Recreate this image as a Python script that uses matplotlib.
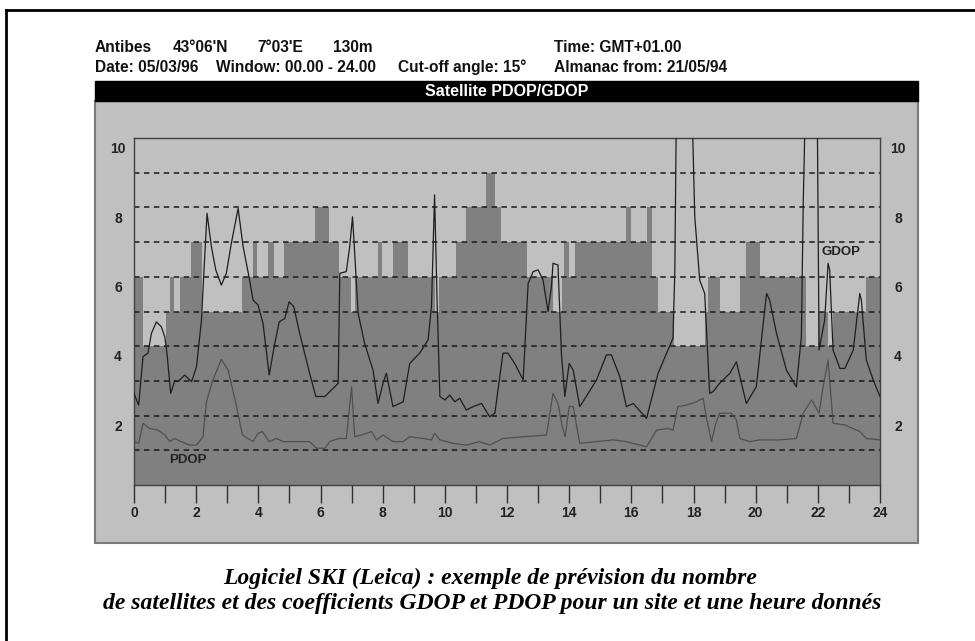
import numpy as np
import matplotlib.pyplot as plt
from matplotlib.patches import Rectangle

# number of visible satellites: interval edges (hours) and count per interval
sat_edges = [0, 0.29, 1.02, 1.15, 1.29, 1.48, 1.83, 2.2, 3.48, 3.82,
             3.95, 4.3, 4.5, 4.82, 5.82, 6.28, 6.61, 6.98, 7.1, 7.85,
             7.99, 8.33, 8.81, 9.68, 9.8, 10.35, 10.69, 11.33, 11.63, 11.81,
             12.65, 13.49, 13.76, 13.84, 14.0, 14.19, 15.84, 16.0, 16.49, 16.66,
             16.86, 17.37, 18.37, 18.47, 18.84, 19.48, 19.69, 20.14, 21.63, 22.0,
             22.33, 22.49, 23.56, 24]
sat_count = [6, 4, 5, 6, 5, 6, 7, 5, 6, 7,
             6, 7, 6, 7, 8, 7, 6, 5, 6, 7,
             6, 7, 6, 5, 6, 7, 8, 9, 8, 7,
             6, 5, 6, 7, 6, 7, 8, 7, 8, 6,
             5, 4, 5, 6, 5, 6, 7, 6, 4, 5,
             4, 5, 6]

# GDOP curve (values above 10 run off the top of the chart)
gdop_t = [0, 0.15, 0.29, 0.45, 0.56, 0.72, 0.88, 0.99, 1.06, 1.18,
          1.31, 1.42, 1.63, 1.85, 2.01, 2.17, 2.27, 2.35, 2.49, 2.63,
          2.81, 2.97, 3.13, 3.35, 3.51, 3.7, 3.83, 3.99, 4.15, 4.35,
          4.51, 4.67, 4.85, 4.99, 5.14, 5.33, 5.65, 5.85, 6.14, 6.46,
          6.57, 6.62, 6.83, 6.94, 7.03, 7.1, 7.21, 7.42, 7.69, 7.85,
          8.01, 8.12, 8.33, 8.66, 8.87, 9.19, 9.46, 9.57, 9.67, 9.75,
          9.84, 10.0, 10.16, 10.32, 10.48, 10.69, 10.91, 11.18, 11.44, 11.61,
          11.87, 12.03, 12.25, 12.52, 12.68, 12.84, 13.0, 13.16, 13.32, 13.43,
          13.48, 13.64, 13.75, 13.86, 14.0, 14.13, 14.34, 14.55, 14.88, 15.2,
          15.36, 15.63, 15.84, 16.06, 16.49, 16.86, 17.18, 17.34, 17.4, 17.45,
          17.95, 18.04, 18.2, 18.36, 18.52, 18.63, 18.84, 19.17, 19.38, 19.7,
          20.02, 20.35, 20.45, 20.67, 20.99, 21.31, 21.47, 21.53, 21.6, 21.98,
          22.04, 22.22, 22.33, 22.38, 22.49, 22.71, 22.87, 23.14, 23.35, 23.4,
          23.56, 23.78, 24.0]
gdop_v = [2.64, 2.3, 3.7, 3.8, 4.37, 4.7, 4.56, 4.27, 3.8, 2.64,
          3.0, 2.98, 3.17, 2.98, 3.4, 4.75, 6.5, 7.83, 6.87, 6.2,
          5.76, 6.1, 6.96, 7.97, 6.87, 6.0, 5.33, 5.19, 4.66, 3.17,
          3.99, 4.7, 4.8, 5.28, 5.14, 4.37, 3.22, 2.55, 2.55, 2.83,
          2.93, 6.1, 6.15, 6.87, 7.73, 6.68, 4.95, 4.08, 3.31, 2.35,
          2.93, 3.22, 2.26, 2.4, 3.5, 3.8, 4.18, 5.14, 8.36, 5.33,
          2.55, 2.45, 2.59, 2.4, 2.5, 2.16, 2.26, 2.35, 1.97, 2.07,
          3.8, 3.8, 3.5, 3.03, 5.81, 6.15, 6.2, 5.91, 5.0, 5.72,
          6.39, 6.34, 3.8, 2.55, 3.5, 3.31, 2.26, 2.55, 3.03, 3.75,
          3.75, 3.12, 2.26, 2.35, 1.92, 3.22, 3.89, 4.23, 6.2, 11.0,
          11.0, 7.74, 5.9, 5.52, 2.64, 2.69, 2.93, 3.22, 3.55, 2.35,
          2.83, 5.52, 5.33, 4.37, 3.31, 2.83, 4.27, 8.1, 11.0, 11.0,
          3.89, 4.75, 6.39, 6.2, 3.89, 3.36, 3.36, 3.89, 5.52, 5.33,
          3.6, 3.03, 2.55]

# PDOP curve
pdop_t = [0, 0.15, 0.29, 0.5, 0.77, 0.99, 1.15, 1.31, 1.52, 1.79,
          2.01, 2.22, 2.33, 2.54, 2.81, 3.03, 3.29, 3.49, 3.83, 3.99,
          4.13, 4.35, 4.58, 4.8, 5.65, 5.87, 6.14, 6.3, 6.57, 6.83,
          7.0, 7.1, 7.32, 7.64, 7.8, 8.01, 8.33, 8.66, 8.87, 9.3,
          9.57, 9.67, 9.84, 10.27, 10.69, 11.12, 11.44, 11.87, 12.52, 13.27,
          13.48, 13.64, 13.78, 13.87, 14.0, 14.13, 14.34, 14.88, 15.41, 15.84,
          16.49, 16.81, 17.18, 17.34, 17.5, 17.77, 18.09, 18.31, 18.42, 18.58,
          18.72, 18.84, 19.22, 19.38, 19.49, 19.81, 20.13, 20.78, 21.31, 21.53,
          21.8, 22.04, 22.17, 22.33, 22.49, 22.87, 23.35, 23.56, 24.0]
pdop_v = [1.25, 1.2, 1.78, 1.63, 1.58, 1.44, 1.25, 1.34, 1.25, 1.15,
          1.15, 1.39, 2.4, 3.03, 3.62, 3.31, 2.3, 1.44, 1.25, 1.49,
          1.54, 1.25, 1.34, 1.25, 1.25, 1.06, 1.06, 1.25, 1.34, 1.34,
          2.83, 1.39, 1.44, 1.54, 1.3, 1.44, 1.25, 1.25, 1.39, 1.34,
          1.3, 1.49, 1.3, 1.2, 1.15, 1.25, 1.15, 1.34, 1.39, 1.44,
          2.64, 2.35, 1.68, 1.39, 2.26, 2.26, 1.2, 1.25, 1.3, 1.25,
          1.1, 1.58, 1.63, 1.58, 2.26, 2.3, 2.4, 2.5, 1.92, 1.25,
          1.78, 2.07, 2.07, 1.87, 1.34, 1.25, 1.3, 1.3, 1.34, 2.07,
          2.45, 2.07, 2.83, 3.6, 1.78, 1.73, 1.54, 1.34, 1.3]

hours = list(range(0, 25))
dop_ticks = [2, 4, 6, 8, 10]

header_1 = [("Antibes", 95), ("43°06'N", 173), ("7°03'E", 257), ("130m", 333),
            ("Time: GMT+01.00", 554)]
header_2 = [("Date: 05/03/96", 95), ("Window: 00.00 - 24.00", 216),
            ("Cut-off angle: 15°", 398), ("Almanac from: 21/05/94", 554)]
caption = ["Logiciel SKI (Leica) : exemple de prévision du nombre",
           "de satellites et des coefficients GDOP et PDOP pour un site et une heure donnés"]

W, H = 975, 641
LIGHT = '#c0c0c0'
DARK = '#808080'
sans = 'Liberation Sans'

fig = plt.figure(figsize=(W / 100, H / 100), dpi=100)

# page layer, pixel coordinates
bg = fig.add_axes([0, 0, 1, 1])
bg.set_xlim(0, W)
bg.set_ylim(H, 0)
bg.axis('off')
bg.plot([6, 6], [10, 641], color='black', lw=2)
bg.plot([6, W], [10, 10], color='black', lw=2)
bg.add_patch(Rectangle((95, 101), 823, 442, facecolor=LIGHT, edgecolor='#7a7a7a', lw=1.5))
bg.add_patch(Rectangle((95, 81), 823, 20, facecolor='black', edgecolor='black', lw=1))
bg.text(507, 91, "Satellite PDOP/GDOP", color='white', fontsize=11.5, fontweight='bold',
        family=sans, ha='center', va='center')
for txt, x in header_1:
    bg.text(x, 48, txt, fontsize=11.2, fontweight='bold', family=sans, ha='left', va='center',
            color='#111111')
for txt, x in header_2:
    bg.text(x, 67, txt, fontsize=11.2, fontweight='bold', family=sans, ha='left', va='center',
            color='#111111')
bg.text(490, 578, caption[0], fontsize=17, fontweight='bold', style='italic',
        family='Liberation Serif', ha='center', va='center')
bg.text(492, 604, caption[1], fontsize=17, fontweight='bold', style='italic',
        family='Liberation Serif', ha='center', va='center')

# chart
ax = fig.add_axes([134 / W, 1 - 485 / H, 746 / W, 347 / H])
ax.set_facecolor(LIGHT)
ax.stairs(sat_count, sat_edges, fill=True, color=DARK, baseline=0, zorder=1)
for lvl in range(1, 10):
    ax.axhline(lvl, color='#1a1a1a', lw=1.1, ls=(0, (3.6, 2.9)), zorder=2)
ax.plot(pdop_t, pdop_v, color='#505050', lw=0.9, zorder=3)
ax.plot(gdop_t, gdop_v, color='#1e1e1e', lw=0.9, zorder=4)
ax.text(1.74, 0.72, "PDOP", fontsize=9.5, fontweight='bold', family=sans, ha='center',
        va='center', color='#222222', zorder=5)
ax.text(22.76, 6.72, "GDOP", fontsize=9.5, fontweight='bold', family=sans, ha='center',
        va='center', color='#222222', zorder=5)
ax.set_xlim(0, 24)
ax.set_ylim(0, 10)

ax.set_xticks(hours)
ax.set_xticklabels([str(h) if h % 2 == 0 else '' for h in hours])
ax.tick_params(axis='x', length=13, width=1, color='#303030', pad=2, direction='out')
for lab in ax.get_xticklabels():
    lab.set_fontweight('bold')
    lab.set_fontsize(10)
    lab.set_family(sans)
    lab.set_color('#222222')
ax.set_yticks([])
for v in dop_ticks:
    ax.text(-0.0214, v - 0.12, str(v), transform=ax.get_yaxis_transform(), ha='center',
            va='top', fontsize=10, fontweight='bold', family=sans, color='#222222')
    ax.text(1.024, v - 0.12, str(v), transform=ax.get_yaxis_transform(), ha='center',
            va='top', fontsize=10, fontweight='bold', family=sans, color='#222222')
for s in ax.spines.values():
    s.set_color('#404040')
    s.set_linewidth(1)

fig.savefig('out.png', dpi=100)
